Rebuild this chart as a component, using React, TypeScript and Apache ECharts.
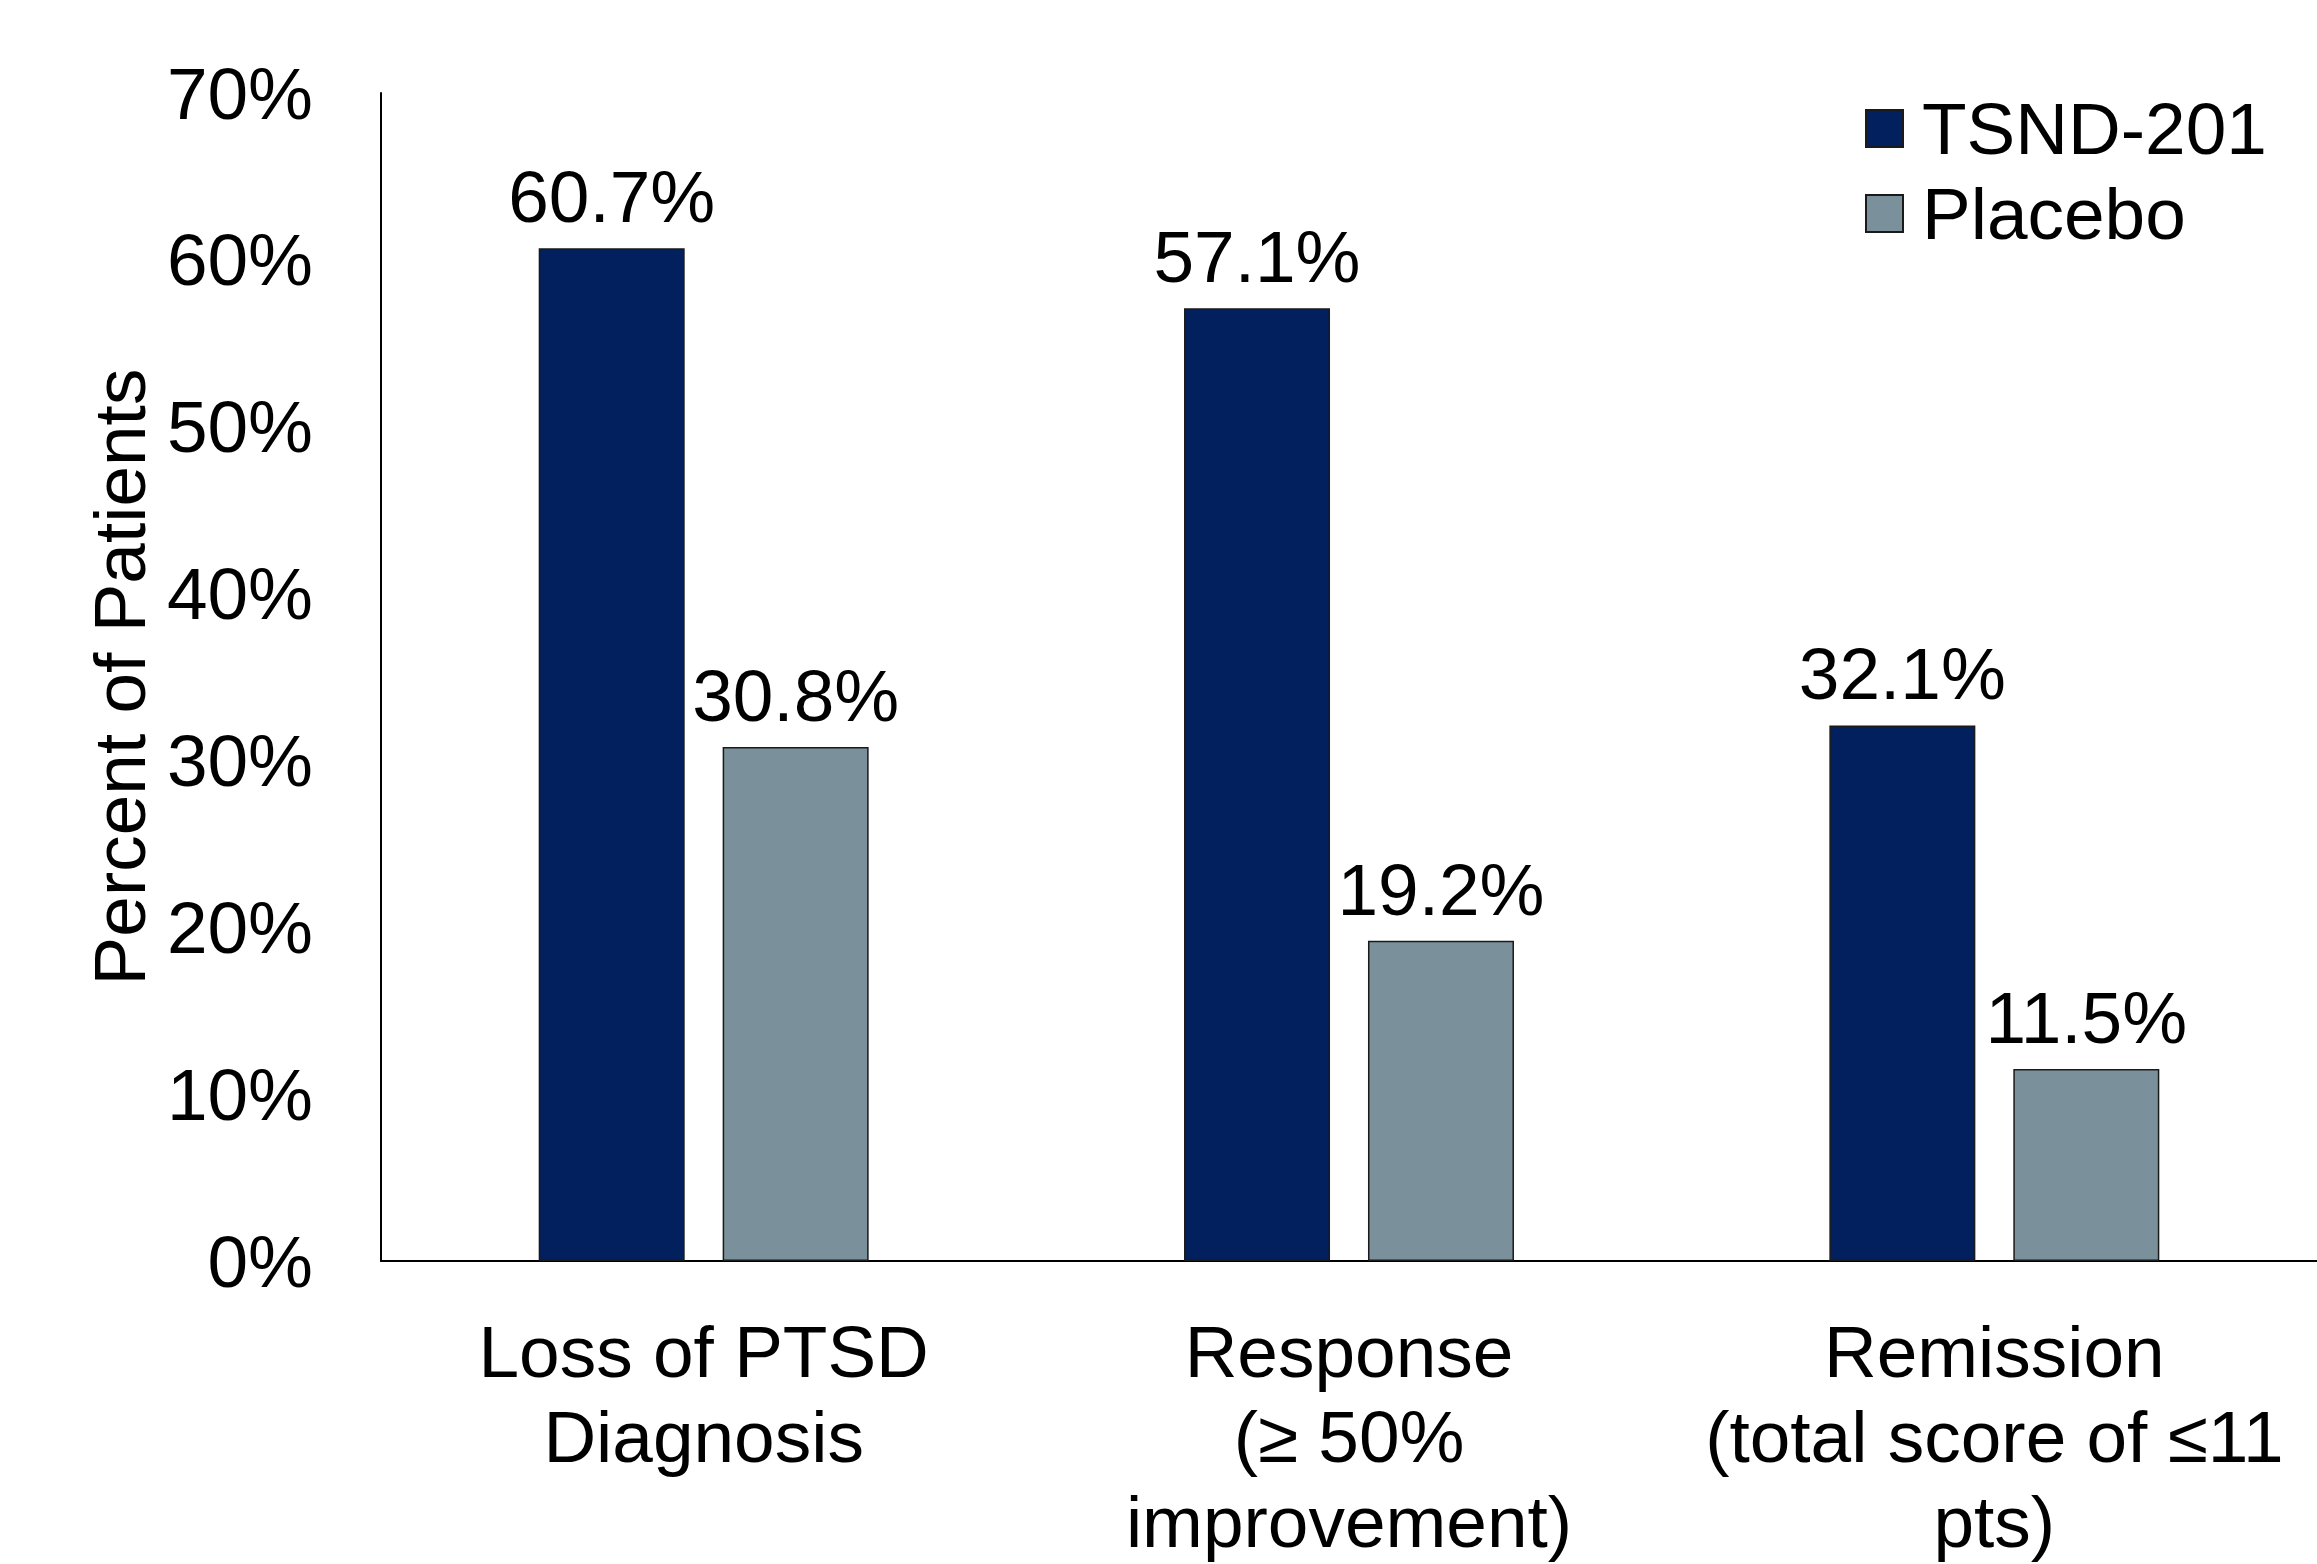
import React, { useEffect, useRef } from "react";
import * as echarts from "echarts";

const categories = [
  "Loss of PTSD\nDiagnosis",
  "Response\n(≥ 50%\nimprovement)",
  "Remission\n(total score of ≤11\npts)",
];
const seriesNames = ["TSND-201", "Placebo"];
const tsndValues = [60.7, 57.1, 32.1];
const placeboValues = [30.8, 19.2, 11.5];
const yTicks = { min: 0, max: 70, interval: 10 };

const FONT = "'Liberation Sans', Arial, Helvetica, sans-serif";
const NAVY = "#02205D";
const GREY = "#7A909B";

export default function App() {
  const ref = useRef<HTMLDivElement>(null);
  useEffect(() => {
    document.body.style.margin = "0";
    document.body.style.overflow = "hidden";
    const chart = echarts.init(ref.current!, null, { renderer: "svg" });
    const labelCfg = {
      show: true,
      position: "top",
      distance: 15,
      color: "#000",
      fontSize: 73,
      fontFamily: FONT,
      formatter: (p: any) => `${p.value.toFixed(1)}%`,
    };
    chart.setOption({
      animation: false,
      backgroundColor: "#fff",
      textStyle: { fontFamily: FONT },
      grid: { left: 381, top: 93, width: 1950, height: 1175, containLabel: false },
      legend: {
        orient: "vertical",
        left: 1860,
        top: 83,
        itemWidth: 37,
        itemHeight: 37,
        itemGap: 4,
        icon: "rect",
        data: seriesNames,
        textStyle: {
          fontSize: 73,
          fontFamily: FONT,
          color: "#000",
          lineHeight: 81,
          padding: [0, 0, 0, 14],
        },
      },
      xAxis: {
        type: "category",
        data: categories,
        axisLine: { show: true, lineStyle: { color: "#000", width: 2 } },
        axisTick: { show: false },
        axisLabel: {
          interval: 0,
          color: "#000",
          fontSize: 73,
          fontFamily: FONT,
          lineHeight: 85,
          margin: 48,
        },
      },
      yAxis: {
        type: "value",
        min: yTicks.min,
        max: yTicks.max,
        interval: yTicks.interval,
        name: "Percent of Patients",
        nameLocation: "middle",
        nameGap: 222,
        nameTextStyle: { fontSize: 73, fontFamily: FONT, color: "#000" },
        axisLine: { show: true, lineStyle: { color: "#000", width: 2 } },
        axisTick: { show: false },
        splitLine: { show: false },
        axisLabel: {
          color: "#000",
          fontSize: 73,
          fontFamily: FONT,
          margin: 68,
          formatter: "{value}%",
        },
      },
      series: [
        {
          name: seriesNames[0],
          type: "bar",
          data: tsndValues,
          barWidth: 146,
          barGap: "26%",
          itemStyle: { color: NAVY, borderColor: "#1a1a1a", borderWidth: 1.5 },
          label: labelCfg,
        },
        {
          name: seriesNames[1],
          type: "bar",
          data: placeboValues,
          barWidth: 146,
          barGap: "26%",
          itemStyle: { color: GREY, borderColor: "#1a1a1a", borderWidth: 1.5 },
          label: labelCfg,
        },
      ],
    });
    return () => chart.dispose();
  }, []);
  return <div ref={ref} style={{ width: 2317, height: 1564 }} />;
}
